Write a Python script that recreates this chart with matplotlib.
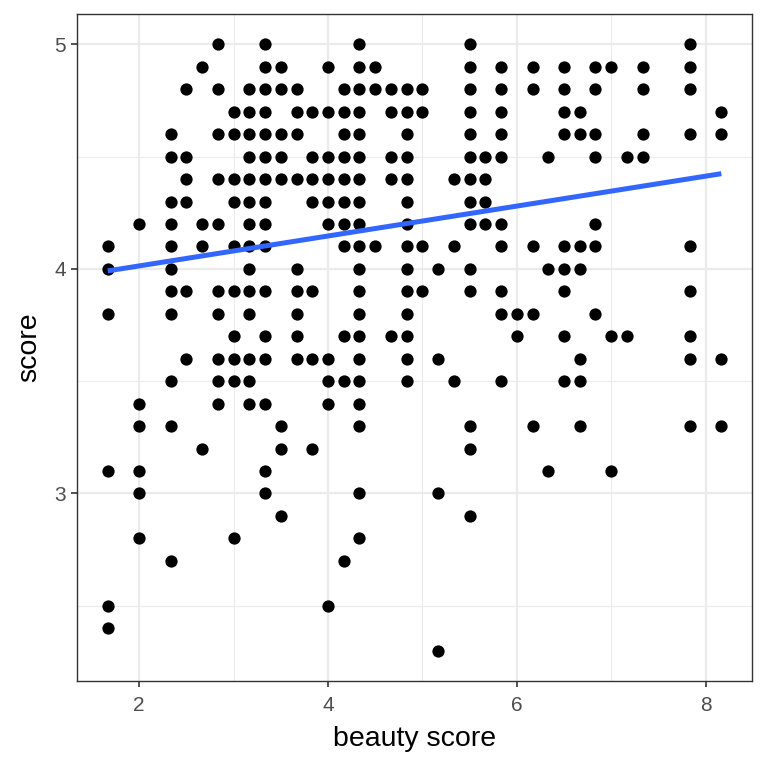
import matplotlib
matplotlib.use("Agg")
import matplotlib.pyplot as plt
from matplotlib.ticker import MultipleLocator

plt.rcParams["font.family"] = ["Liberation Sans", "DejaVu Sans"]

# beauty score columns -> scores seen at that column
bty = [1.667, 2.0, 2.333, 2.5, 2.667, 2.833, 3.0, 3.167, 3.333, 3.5, 3.667,
       3.833, 4.0, 4.167, 4.333, 4.5, 4.667, 4.833, 5.0, 5.167, 5.333, 5.5,
       5.667, 5.833, 6.0, 6.167, 6.333, 6.5, 6.667, 6.833, 7.0, 7.167, 7.333,
       7.833, 8.167]
scores = [
    [4.1, 4.0, 3.8, 3.1, 2.5, 2.4],
    [4.2, 3.4, 3.3, 3.1, 3.0, 2.8],
    [4.6, 4.5, 4.3, 4.2, 4.1, 4.0, 3.9, 3.8, 3.5, 3.3, 2.7],
    [4.8, 4.5, 4.4, 4.3, 3.9, 3.6],
    [4.9, 4.2, 4.1, 3.2],
    [5.0, 4.8, 4.6, 4.4, 4.2, 3.9, 3.8, 3.6, 3.5, 3.4],
    [4.7, 4.6, 4.4, 4.3, 4.1, 3.9, 3.7, 3.6, 3.5, 2.8],
    [4.8, 4.7, 4.6, 4.5, 4.4, 4.3, 4.2, 4.1, 4.0, 3.9, 3.8, 3.6, 3.5, 3.4],
    [5.0, 4.9, 4.8, 4.7, 4.6, 4.5, 4.4, 4.3, 4.2, 4.1, 3.9, 3.7, 3.6, 3.4, 3.1, 3.0],
    [4.9, 4.8, 4.6, 4.5, 4.4, 3.3, 3.2, 2.9],
    [4.8, 4.7, 4.6, 4.4, 4.0, 3.9, 3.8, 3.7, 3.6],
    [4.7, 4.5, 4.4, 4.3, 3.9, 3.6, 3.2],
    [4.9, 4.7, 4.5, 4.4, 4.3, 4.2, 3.6, 3.5, 3.4, 2.5],
    [4.8, 4.7, 4.6, 4.5, 4.4, 4.3, 4.2, 4.1, 3.7, 3.5, 2.7],
    [5.0, 4.9, 4.8, 4.7, 4.6, 4.5, 4.4, 4.3, 4.2, 4.1, 4.0, 3.9, 3.8, 3.7,
     3.6, 3.5, 3.4, 3.3, 3.0, 2.8],
    [4.9, 4.8, 4.1],
    [4.8, 4.7, 4.5, 4.4, 3.7],
    [4.8, 4.7, 4.6, 4.5, 4.4, 4.3, 4.2, 4.1, 4.0, 3.9, 3.8, 3.7, 3.6, 3.5],
    [4.8, 4.7, 4.1, 3.9],
    [4.0, 3.6, 3.0, 2.3],
    [4.4, 4.1, 3.5],
    [5.0, 4.9, 4.8, 4.7, 4.6, 4.5, 4.4, 4.3, 4.2, 4.0, 3.9, 3.3, 3.2, 2.9],
    [4.5, 4.4, 4.3, 4.2],
    [4.9, 4.8, 4.7, 4.6, 4.5, 4.2, 4.1, 3.9, 3.8, 3.5],
    [3.8, 3.7],
    [4.9, 4.8, 4.1, 3.8, 3.3],
    [4.5, 4.0, 3.1],
    [4.9, 4.8, 4.7, 4.6, 4.1, 4.0, 3.9, 3.7, 3.5],
    [4.7, 4.6, 4.1, 4.0, 3.6, 3.5, 3.3],
    [4.9, 4.8, 4.6, 4.5, 4.2, 4.1, 3.8],
    [4.9, 3.7, 3.1],
    [4.5, 3.7],
    [4.9, 4.8, 4.6, 4.5],
    [5.0, 4.9, 4.8, 4.6, 4.1, 3.9, 3.7, 3.6, 3.3],
    [4.7, 4.6, 3.6, 3.3],
]

# linear fit
fit_intercept = 3.880
fit_slope = 0.0666

xs, ys = [], []
for b, col in zip(bty, scores):
    for s in col:
        xs.append(b)
        ys.append(s)

fig = plt.figure(figsize=(7.68, 7.68), dpi=100)
ax = fig.add_axes([0.1003, 0.1133, 0.8789, 0.8685])

ax.scatter(xs, ys, s=78, color="black", linewidths=0, zorder=3)

x0, x1 = min(bty), max(bty)
ax.plot([x0, x1], [fit_intercept + fit_slope * x0, fit_intercept + fit_slope * x1],
        color="#3366FF", lw=3.6, solid_capstyle="butt", zorder=4)

ax.set_xlim(1.342, 8.492)
ax.set_ylim(2.165, 5.135)
ax.xaxis.set_major_locator(MultipleLocator(2))
ax.xaxis.set_minor_locator(MultipleLocator(1))
ax.yaxis.set_major_locator(MultipleLocator(1))
ax.yaxis.set_minor_locator(MultipleLocator(0.5))

ax.grid(which="major", color="#EBEBEB", lw=1.6, zorder=0)
ax.grid(which="minor", color="#EBEBEB", lw=0.8, zorder=0)
ax.set_axisbelow(True)

for sp in ax.spines.values():
    sp.set_color("#333333")
    sp.set_linewidth(1.0)

ax.tick_params(which="major", length=4, width=1.2, color="#333333",
               labelcolor="#4D4D4D", labelsize=15, pad=4)
ax.tick_params(axis="x", which="major", pad=7)
ax.tick_params(which="minor", length=0)

ax.set_xlabel("beauty score", fontsize=20.5, labelpad=8)
ax.set_ylabel("score", fontsize=20.5, labelpad=9)

fig.savefig("out.png", dpi=100, facecolor="white")
